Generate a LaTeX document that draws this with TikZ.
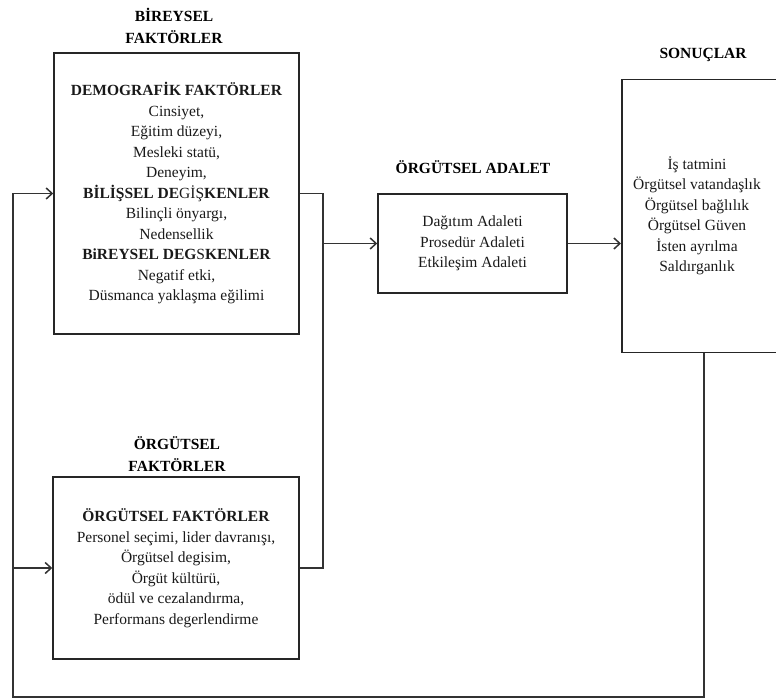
\documentclass[tikz,border=0pt]{standalone}
\usepackage{fontspec}
\setmainfont{Liberation Serif}
\usetikzlibrary{arrows.meta}
\begin{document}
\begin{tikzpicture}[x=1pt,y=-1pt,
  box/.style={draw=black!85, line width=1.5pt, inner sep=0pt},
  txt/.style={align=center, inner sep=0pt, text=black!90,
    font=\fontsize{15.5}{20.5}\selectfont},
  head/.style={align=center, inner sep=0pt, text=black,
    font=\fontsize{15.5}{22}\selectfont\bfseries},
  link/.style={draw=black!80, line width=1.5pt},
  arr/.style={link, -{Straight Barb[length=6pt,width=11pt]}}]
\clip (0,0) rectangle (776,700);

% boxes
\node[box, minimum width=245pt, minimum height=281pt] (b1) at (176.5,193.5) {};
\node[box, minimum width=246pt, minimum height=182pt] (b2) at (176,568) {};
\node[box, minimum width=189pt, minimum height=99pt] (mid) at (472.5,243.5) {};
\node[box, minimum width=200pt, minimum height=273pt, anchor=north west] (res) at (621,79) {};

% box contents
\node[txt] (t1) at (b1.center) {\textbf{DEMOGRAFİK FAKTÖRLER}\\ Cinsiyet,\\ Eğitim düzeyi,\\ Mesleki statü,\\ Deneyim,\\
  \textbf{BİLİŞSEL DE}GİŞ\textbf{KENLER}\\ Bilinçli önyargı,\\ Nedensellik\\
  \textbf{BiREYSEL DEG}S\textbf{KENLER}\\ Negatif etki,\\ Düsmanca yaklaşma eğilimi};
\node[txt] (t2) at (b2.center) {\textbf{ÖRGÜTSEL FAKTÖRLER}\\ Personel seçimi, lider davranışı,\\ Örgütsel degisim,\\ Örgüt kültürü,\\ ödül ve cezalandırma,\\ Performans degerlendirme};
\node[txt] (t3) at (mid.center) {Dağıtım Adaleti\\ Prosedür Adaleti\\ Etkileşim Adaleti};
\node[txt] (t4) at (697,216) {İş tatmini\\ Örgütsel vatandaşlık\\ Örgütsel bağlılık\\ Örgütsel Güven\\ İsten ayrılma\\ Saldırganlık};

% headings
\node[head] (h1) at (174,26) {BİREYSEL\\ FAKTÖRLER};
\node[head] (h2) at (177,454) {ÖRGÜTSEL\\ FAKTÖRLER};
\node[head] (h3) at (473,167) {ÖRGÜTSEL ADALET};
\node[head] (h4) at (703,55) {SONUÇLAR};

% collecting line on the right of the factor boxes
\coordinate (bus) at (323,0);
\draw[link] (b1.east) -- (b1.east -| bus) -- (b2.east -| bus) -- (b2.east);
\draw[arr] (mid.west -| bus) -- (mid.west);
\draw[arr] (mid.east) -- (mid.east -| res.west);

% feedback loop
\coordinate (fbR) at (704,697);
\coordinate (fbL) at (13,697);
\draw[link] (res.south -| fbR) -- (fbR) -- (fbL) -- (fbL |- b1.west);
\draw[arr] (fbL |- b1.west) -- (b1.west);
\draw[arr] (fbL |- b2.west) -- (b2.west);
\end{tikzpicture}
\end{document}
